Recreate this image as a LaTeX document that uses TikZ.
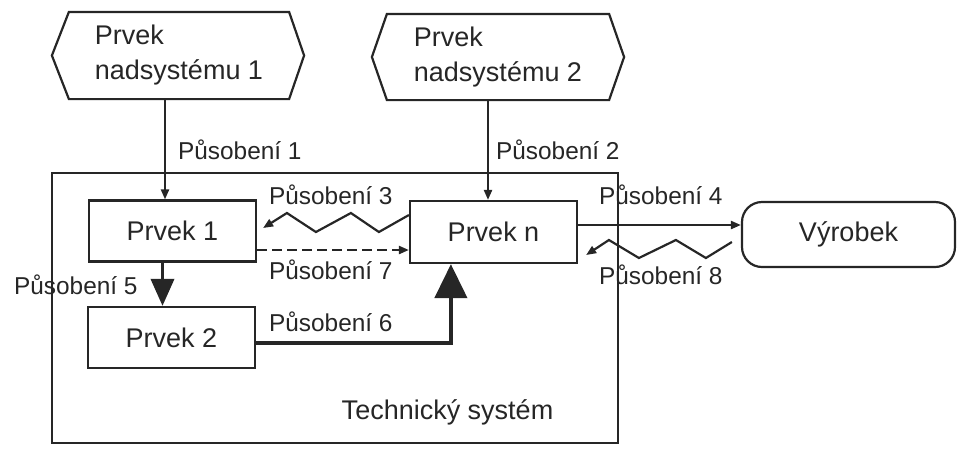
\documentclass[tikz,border=0pt]{standalone}
\usepackage{fontspec}
\setmainfont{Liberation Sans}
\usetikzlibrary{arrows.meta, positioning}

\begin{document}
\begin{tikzpicture}[
    x=0.5pt, y=-0.5pt,
    line width=1.1pt, color=black!85,
    elem/.style={draw, minimum width=83.5pt, minimum height=30.5pt, inner sep=0pt,
                 font=\fontsize{13.5pt}{16pt}\selectfont},
    supel/.style={minimum width=109pt, minimum height=42.5pt, inner sep=0pt, align=left,
                  font=\fontsize{13.5pt}{17.5pt}\selectfont},
    lbl/.style={anchor=west, inner sep=0pt, font=\fontsize{12.2pt}{14pt}\selectfont},
    arr/.style={-{Triangle[length=5pt, width=4pt]}},
    bigarr/.style={-{Triangle[length=13.5pt, width=11.5pt]}, line width=1.8pt},
    hugearr/.style={-{Triangle[length=17pt, width=16pt]}, line width=2.2pt}
]
\useasboundingbox (0,0) rectangle (973,462);

% ---- System boundary ----
\node[draw, minimum width=283pt, minimum height=135pt] (ts) at (335,308) {};
\node[font=\fontsize{13.5pt}{16pt}\selectfont] (tslbl) at (447.5,412) {Technický systém};

% ---- Supersystem elements ----
\node[supel] (sup1) at (179,55.5) {Prvek\\nadsystému 1};
\draw (sup1.north west) -- (sup1.north east) -- ([xshift=7.5pt]sup1.east)
   -- (sup1.south east) -- (sup1.south west) -- ([xshift=-8.5pt]sup1.west) -- cycle;

\node[supel, minimum width=110pt, minimum height=42pt] (sup2) at (498,57) {Prvek\\nadsystému 2};
\draw (sup2.north west) -- (sup2.north east) -- ([xshift=7.5pt]sup2.east)
   -- (sup2.south east) -- (sup2.south west) -- ([xshift=-7.5pt]sup2.west) -- cycle;

% ---- Elements ----
\node[elem] (p1) at (172.5,231) {Prvek 1};
\node[elem] (p2) at (171.5,337.5) {Prvek 2};
\node[elem, minimum height=31pt] (pn) at (493.5,232) {Prvek n};
\node[elem, rounded corners=10pt, minimum width=106.5pt, minimum height=32.5pt] (vyr) at (848.5,234.5) {Výrobek};

% ---- Actions ----
\draw[arr] ([xshift=-7pt]sup1.south) -- ([xshift=-7pt]sup1.south |- p1.north);
\node[lbl] (l1) at (177,150) {Působení 1};

\draw[arr] ([xshift=-5pt]sup2.south) -- ([xshift=-5pt]sup2.south |- pn.north);
\node[lbl] (l2) at (495,150) {Působení 2};

\draw[arr] ([yshift=8.5pt]pn.west) -- ++(-30,17) -- ++(-28,-19) -- ++(-35,19) -- ++(-29,-19)
   -- ([shift={(6,-3)}]p1.east);
\node[lbl] (l3) at (268,195) {Působení 3};

\draw[arr] ([yshift=3.5pt]pn.east) -- ([yshift=3.5pt]pn.east -| vyr.west);
\node[lbl] (l4) at (598,195) {Působení 4};

\draw[bigarr] ([xshift=-5pt]p1.south) -- ([xshift=-5pt]p1.south |- p2.north);
\node[lbl] (l5) at (13,285) {Působení 5};

\draw[hugearr] ([yshift=-2.75pt]p2.east) -| ([xshift=21pt]pn.south west);
\node[lbl] (l6) at (268,322) {Působení 6};

\draw[arr, dash pattern=on 5pt off 2.5pt] ([yshift=-9.5pt]p1.east) -- ([yshift=-9.5pt]p1.east -| pn.west);
\node[lbl] (l7) at (268,270) {Působení 7};

\draw[arr] ([shift={(-9,7.5)}]vyr.west) -- ++(-26,16) -- ++(-30,-18) -- ++(-37,18) -- ++(-30,-18)
   -- ([shift={(8,23)}]pn.east);
\node[lbl] (l8) at (598,275) {Působení 8};

\end{tikzpicture}
\end{document}
